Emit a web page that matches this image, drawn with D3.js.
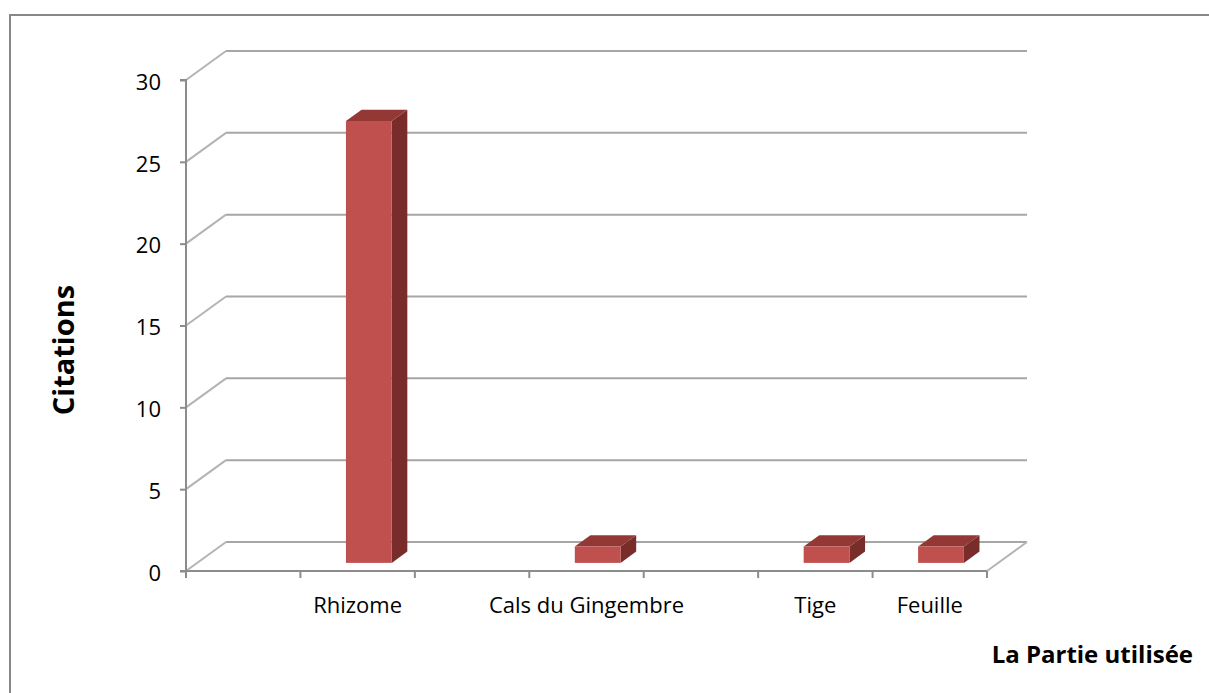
<!DOCTYPE html>
<html>
<head>
<meta charset="utf-8">
<script src="https://cdn.jsdelivr.net/npm/d3@7"></script>
<style>
  html, body { margin: 0; padding: 0; background: #fff; }
  svg { display: block; }
  text { font-family: "Open Sans", "Noto Sans", sans-serif; fill: #000; }
</style>
</head>
<body>
<svg id="chart" width="1209" height="693"></svg>
<script>
// Parts of the plant and number of citations for each
const categories = ["", "Rhizome", "", "Cals du Gingembre", "", "Tige", "Feuille"];
const citations = [0, 27, 0, 1, 0, 1, 1];
const yTicks = [0, 5, 10, 15, 20, 25, 30];
const yTitle = "Citations";
const xTitle = "La Partie utilisée";

const svg = d3.select("#chart");
const W = 1209, H = 693;

// Plot geometry: front plane of the 3D box and the depth offset to the back wall
const front = { left: 186, right: 987, top: 80, bottom: 571 };
const depth = { dx: 40, dy: -29 };
const barDepth = [0.28, 0.67];   // fraction of the depth occupied by the bars

const gridColor = "#a6a6a6";
const axisColor = "#8c8c8c";
const faceColor = "#c0504d", topColor = "#943836", sideColor = "#782d2b";

const x = d3.scaleBand()
  .domain(d3.range(categories.length))
  .range([front.left, front.right])
  .paddingInner(0).paddingOuter(0);

const y = d3.scaleLinear().domain([0, 30]).range([front.bottom, front.top]);

// Outer chart frame (only top and left edges fall inside the view)
svg.append("path")
  .attr("d", `M10,${H} L10,15 L${W},15`)
  .attr("fill", "none").attr("stroke", "#888").attr("stroke-width", 2);

const g = svg.append("g");

// Back wall gridlines
g.selectAll("line.grid").data(yTicks).join("line")
  .attr("class", "grid")
  .attr("x1", front.left + depth.dx).attr("x2", front.right + depth.dx)
  .attr("y1", d => y(d) + depth.dy).attr("y2", d => y(d) + depth.dy)
  .attr("stroke", gridColor).attr("stroke-width", 2);

// Side wall gridlines running from the value axis to the back wall
g.selectAll("line.side").data(yTicks).join("line")
  .attr("class", "side")
  .attr("x1", front.left).attr("y1", d => y(d))
  .attr("x2", front.left + depth.dx).attr("y2", d => y(d) + depth.dy)
  .attr("stroke", "#b4b4b4").attr("stroke-width", 2);

// Floor right edge
g.append("line")
  .attr("x1", front.right).attr("y1", y(0))
  .attr("x2", front.right + depth.dx).attr("y2", y(0) + depth.dy)
  .attr("stroke", "#b4b4b4").attr("stroke-width", 2);

// Value axis with outward ticks
const yAxis = d3.axisLeft(y).tickValues(yTicks).tickSize(6).tickPadding(19);
const yAxisG = g.append("g").attr("transform", `translate(${front.left},0)`).call(yAxis);
yAxisG.attr("font-family", null).attr("font-size", null);
yAxisG.select(".domain").attr("stroke", axisColor).attr("stroke-width", 2)
  .attr("d", `M-6,${y(30)}H0V${y(0)}H-6`);
yAxisG.selectAll(".tick line").attr("stroke", axisColor).attr("stroke-width", 2);
yAxisG.selectAll(".tick text")
  .style("font-size", "22px").attr("fill", "#000").attr("dy", "0.42em");

// Category axis: ticks at band boundaries, labels centred in bands
const xAxisG = g.append("g").attr("transform", `translate(0,${front.bottom})`);
xAxisG.append("line")
  .attr("x1", front.left).attr("x2", front.right)
  .attr("stroke", axisColor).attr("stroke-width", 2);
const boundaries = d3.range(categories.length + 1).map(i =>
  i < categories.length ? x(i) : x(i - 1) + x.bandwidth());
xAxisG.selectAll("line.tick").data(boundaries).join("line")
  .attr("class", "tick")
  .attr("x1", d => d).attr("x2", d => d)
  .attr("y1", 0).attr("y2", 7)
  .attr("stroke", axisColor).attr("stroke-width", 2);
xAxisG.selectAll("text").data(categories).join("text")
  .attr("x", (d, i) => x(i) + x.bandwidth() / 2)
  .attr("y", 42)
  .attr("text-anchor", "middle")
  .style("font-size", "22px")
  .text(d => d);

// 3D bars: front face, top and right side
const bars = categories.map((c, i) => ({ i, v: citations[i] })).filter(d => d.v > 0);
const bw = x.bandwidth();
bars.forEach(d => {
  const ox0 = depth.dx * barDepth[0], oy0 = depth.dy * barDepth[0];
  const ox1 = depth.dx * barDepth[1], oy1 = depth.dy * barDepth[1];
  const x0 = x(d.i) + bw * 0.3 + ox0, x1 = x(d.i) + bw * 0.7 + ox0;
  const yt = y(d.v) + oy0, yb = y(0) + oy0;
  const ddx = ox1 - ox0, ddy = oy1 - oy0;
  const bar = g.append("g").attr("class", "bar");
  bar.append("path")
    .attr("d", `M${x1},${yt}L${x1 + ddx},${yt + ddy}L${x1 + ddx},${yb + ddy}L${x1},${yb}Z`)
    .attr("fill", sideColor);
  bar.append("path")
    .attr("d", `M${x0},${yt}L${x0 + ddx},${yt + ddy}L${x1 + ddx},${yt + ddy}L${x1},${yt}Z`)
    .attr("fill", topColor);
  bar.append("rect")
    .attr("x", x0).attr("y", yt)
    .attr("width", x1 - x0).attr("height", yb - yt)
    .attr("fill", faceColor);
});

// Axis titles
svg.append("text")
  .attr("transform", `translate(74,350) rotate(-90)`)
  .attr("text-anchor", "middle")
  .style("font-size", "29px").style("font-weight", "bold")
  .text(yTitle);

svg.append("text")
  .attr("x", 1193).attr("y", 663)
  .attr("text-anchor", "end")
  .style("font-size", "24px").style("font-weight", "bold")
  .text(xTitle);
</script>
</body>
</html>
